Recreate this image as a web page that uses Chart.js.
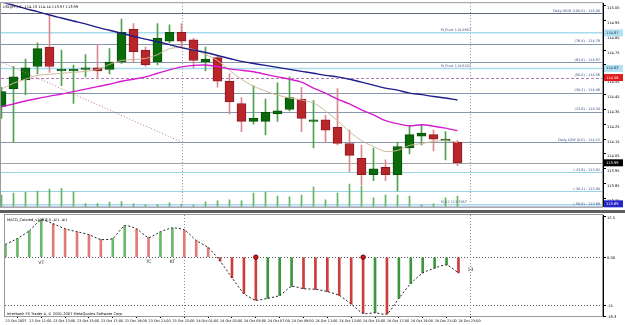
<!DOCTYPE html>
<html>
<head>
<meta charset="utf-8">
<title>USDJPY,H1</title>
<script src="https://cdn.jsdelivr.net/npm/chart.js@4.4.1/dist/chart.umd.min.js"></script>
<style>
    html, body { margin: 0; padding: 0; background: #fff; }
    #wrap { position: relative; width: 625px; height: 325px; overflow: hidden; background: #fff; }
    #priceChart { position: absolute; left: 0; top: 0; }
    #macdChart { position: absolute; left: 0; top: 210px; }
</style>
</head>
<body>
<div id="wrap">
    <canvas id="priceChart" width="625" height="210"></canvas>
    <canvas id="macdChart" width="625" height="115"></canvas>
</div>
<script>
// DATA - USDJPY H1, 23 Oct 09:00 .. 24 Oct 23:00
var symbolName = "USDJPY,H1";
var timeLabels = [
    "23 Oct 2007", "23 Oct 11:00", "23 Oct 13:00", "23 Oct 15:00", "23 Oct 17:00",
    "23 Oct 19:00", "23 Oct 21:00", "23 Oct 23:00", "24 Oct 01:00", "24 Oct 03:00",
    "24 Oct 05:00", "24 Oct 07:00", "24 Oct 09:00", "24 Oct 11:00", "24 Oct 13:00",
    "24 Oct 15:00", "24 Oct 17:00", "24 Oct 19:00", "24 Oct 21:00", "24 Oct 23:00"
];
var opens = [114.37, 114.49, 114.55, 114.64, 114.77, 114.61, 114.61, 114.62, 114.63, 114.62,
    114.67, 114.89, 114.75, 114.67, 114.81, 114.87, 114.82, 114.67, 114.70, 114.54,
    114.39, 114.27, 114.27, 114.32, 114.35, 114.42, 114.27, 114.28, 114.23, 114.12,
    114.02, 113.91, 113.96, 113.91, 114.09, 114.17, 114.18, 114.14, 114.13];
var highs = [114.50, 114.64, 114.69, 114.80, 115.00, 114.75, 114.65, 114.72, 114.79, 114.76,
    114.96, 114.93, 114.77, 114.93, 114.92, 114.93, 114.83, 114.77, 114.71, 114.59,
    114.43, 114.51, 114.42, 114.53, 114.57, 114.50, 114.41, 114.31, 114.49, 114.21,
    114.11, 114.09, 114.01, 114.13, 114.24, 114.25, 114.21, 114.20, 114.14];
var lows = [114.29, 114.13, 114.45, 114.59, 114.60, 114.51, 114.39, 114.57, 114.56, 114.59,
    114.66, 114.67, 114.64, 114.65, 114.80, 114.77, 114.63, 114.61, 114.50, 114.32,
    114.20, 114.25, 114.18, 114.27, 114.34, 114.20, 114.09, 114.13, 114.11, 113.93,
    113.84, 113.87, 113.87, 113.80, 114.05, 114.11, 114.07, 114.01, 113.97];
var closes = [114.47, 114.57, 114.63, 114.76, 114.64, 114.62, 114.62, 114.63, 114.61, 114.67,
    114.87, 114.74, 114.65, 114.83, 114.87, 114.81, 114.68, 114.69, 114.54, 114.40,
    114.27, 114.29, 114.33, 114.34, 114.43, 114.29, 114.28, 114.21, 114.12, 114.04,
    113.91, 113.95, 113.91, 114.10, 114.18, 114.19, 114.15, 114.15, 113.99];
var volumes = [300, 350, 370, 400, 450, 470, 380, 80, 80, 120, 130, 75, 50, 55, 100, 70, 45, 125,
    150, 175, 150, 350, 375, 275, 250, 300, 500, 175, 350, 575, 525, 225, 300, 300, 275, 50, 75, 225, 275];

// MOVING AVERAGES
var slowMA = [115.074, 115.054, 115.030, 115.010, 114.987, 114.967, 114.947, 114.927, 114.904, 114.884,
    114.864, 114.844, 114.824, 114.807, 114.787, 114.767, 114.750, 114.734, 114.714, 114.694,
    114.674, 114.660, 114.647, 114.634, 114.620, 114.607, 114.594, 114.580, 114.570, 114.554,
    114.534, 114.514, 114.494, 114.480, 114.460, 114.450, 114.437, 114.427, 114.414];
var midMA = [114.367, 114.387, 114.407, 114.424, 114.440, 114.454, 114.470, 114.487, 114.504, 114.520,
    114.540, 114.554, 114.570, 114.594, 114.617, 114.637, 114.647, 114.650, 114.640, 114.624,
    114.614, 114.604, 114.587, 114.570, 114.554, 114.534, 114.494, 114.460, 114.420, 114.387,
    114.347, 114.314, 114.274, 114.254, 114.240, 114.247, 114.237, 114.224, 114.207];
var fastMA = [114.487, 114.527, 114.554, 114.580, 114.587, 114.594, 114.600, 114.607, 114.620, 114.654,
    114.680, 114.687, 114.694, 114.720, 114.760, 114.767, 114.754, 114.720, 114.680, 114.614,
    114.554, 114.507, 114.474, 114.447, 114.427, 114.414, 114.394, 114.340, 114.274, 114.200,
    114.140, 114.100, 114.067, 114.074, 114.107, 114.120, 114.134, 114.140, 114.127];

// TREND LINE + LEVELS
var trendBars = [-1, 15];
var trendPrices = [114.706, 114.13];
var dailyHigh = 115.00;
var dailyLow = 114.13;
var fibRatios = [100, 76.4, 61.8, 50, 38.2, 23.6, 0, -23.6, -38.2, -50];
var pivotNames = ["M_Pivot", "M_Pivot", "M_S2"];
var pivotPrices = [114.8667, 114.6267, 113.7067];
var dayBreaks = [15, 39];
var priceTicks = [115.05, 114.95, 114.85, 114.75, 114.65, 114.55, 114.45, 114.35, 114.25, 114.15, 114.05, 113.95, 113.85, 113.75];

// MACD
var macdValues = [4.0, 5.8, 8.2, 11.6, 10.4, 8.8, 7.9, 7.0, 5.5, 5.8, 9.8, 8.8, 6.1, 7.9, 9.1, 8.5, 5.2, 3.0,
    -1.2, -6.4, -11.3, -13.4, -12.8, -11.9, -9.1, -9.8, -10.0, -10.7, -11.9, -14.6, -17.5, -17.3, -17.7,
    -12.8, -8.2, -4.9, -3.4, -2.4, -4.9];
var macdTicks = [12.5, 0, -15, -18.3];
var macdLevels = [0, -15];
var signalBars = [21, 30];
var markBars = [3, 12, 14, 39];
var markTexts = ["VT", "TC", "KT", "13"];
var markValues = [-1.1, -0.8, -0.8, -3.1];

// SCALE RANGES
var xMin = -0.0417, xMax = 50.125;
var priceMin = 113.693, priceMax = 115.067;
var macdMin = -18.3, macdMax = 13.11;

Chart.defaults.font.family = "'DejaVu Sans', sans-serif";
Chart.defaults.color = "#000";

function pts(arr) {
    return arr.map(function (v, i) { return { x: i, y: v }; });
}

function fibStyle(r) {
    if (r === 50) return { color: "#b77ab7", width: 1, dash: [3, 2] };
    if (r === -50) return { color: "#b9b9e8", width: 3, dash: [] };
    if (r < 0) return { color: "#9cd2e8", width: 1, dash: [] };
    if (r === 100) return { color: "#5d687d", width: 1, dash: [] };
    return { color: "#8797ae", width: 1, dash: [] };
}

function fibPrice(r) {
    return dailyLow + (dailyHigh - dailyLow) * r / 100;
}

function fibText(r) {
    var p = fibPrice(r).toFixed(2);
    if (r === 100) return "Daily HIGH (100.0) - " + p;
    if (r === 0) return "Daily LOW (0.0) - " + p;
    return "(" + r.toFixed(1) + ") - " + p;
}

function axisBox(ctx, chart, py, bg, fg, text) {
    var a = chart.chartArea;
    ctx.fillStyle = bg;
    ctx.fillRect(a.right + 1, py - 3.5, 19, 7);
    ctx.fillStyle = fg;
    ctx.font = "3.6px 'DejaVu Sans'";
    ctx.textAlign = "left";
    ctx.textBaseline = "middle";
    ctx.fillText(text, a.right + 3, py);
}

// PRICE OBJECTS
var pricePlugin = {
    id: "priceObjects",
    beforeDatasetsDraw: function (chart) {
        var ctx = chart.ctx, a = chart.chartArea, x = chart.scales.x, y = chart.scales.y;
        ctx.save();
        ctx.beginPath();
        ctx.rect(a.left, a.top, a.right - a.left, a.bottom - a.top);
        ctx.clip();

        // day separators
        ctx.strokeStyle = "#8c8c8c";
        ctx.lineWidth = 1;
        ctx.setLineDash([1, 2]);
        dayBreaks.forEach(function (b) {
            var px = Math.round(x.getPixelForValue(b)) + 0.5;
            ctx.beginPath();
            ctx.moveTo(px, a.top);
            ctx.lineTo(px, a.bottom);
            ctx.stroke();
        });

        // pivots
        ctx.setLineDash([]);
        ctx.strokeStyle = "#a9dbee";
        ctx.lineWidth = 1.5;
        pivotPrices.forEach(function (p) {
            var py = y.getPixelForValue(p);
            ctx.beginPath();
            ctx.moveTo(a.left, py);
            ctx.lineTo(a.right, py);
            ctx.stroke();
        });

        // fibo
        fibRatios.forEach(function (r) {
            var st = fibStyle(r);
            var py = Math.round(y.getPixelForValue(fibPrice(r))) + 0.5;
            ctx.strokeStyle = st.color;
            ctx.lineWidth = st.width;
            ctx.setLineDash(st.dash);
            ctx.beginPath();
            ctx.moveTo(a.left, py);
            ctx.lineTo(a.right, py);
            ctx.stroke();
        });

        // bid line
        ctx.setLineDash([]);
        ctx.strokeStyle = "#a4a4a4";
        ctx.lineWidth = 1;
        var by = Math.round(y.getPixelForValue(closes[closes.length - 1])) + 0.5;
        ctx.beginPath();
        ctx.moveTo(a.left, by);
        ctx.lineTo(a.right, by);
        ctx.stroke();
        ctx.restore();
    },
    afterDraw: function (chart) {
        var ctx = chart.ctx, a = chart.chartArea, x = chart.scales.x, y = chart.scales.y;
        var last = closes.length - 1;
        ctx.save();
        ctx.font = "3.4px 'DejaVu Sans'";
        ctx.textBaseline = "alphabetic";

        // fib labels
        ctx.fillStyle = "#34498c";
        ctx.textAlign = "right";
        fibRatios.forEach(function (r) {
            var py = y.getPixelForValue(fibPrice(r));
            ctx.fillText(fibText(r), a.right - 3, py - 1.5);
        });

        // pivot labels
        ctx.textAlign = "left";
        ctx.fillStyle = "#4a5a80";
        pivotPrices.forEach(function (p, i) {
            var py = y.getPixelForValue(p);
            ctx.fillText(pivotNames[i] + " " + p.toFixed(4), x.getPixelForValue(36.6), py - 1.5);
        });

        // title
        ctx.fillStyle = "#000";
        ctx.font = "3.6px 'DejaVu Sans'";
        ctx.fillText(symbolName + "  " + opens[last].toFixed(2) + " " + highs[last].toFixed(2) + " " +
            lows[last].toFixed(2) + " " + closes[last].toFixed(2), a.left + 2, a.top + 5);

        // frame
        ctx.strokeStyle = "#9a9a9a";
        ctx.lineWidth = 1;
        ctx.strokeRect(a.left - 0.5, a.top - 0.5, a.right - a.left, a.bottom - a.top + 1);

        // axis boxes
        axisBox(ctx, chart, y.getPixelForValue(pivotPrices[0]), "#b3e1f2", "#1a3a60", pivotPrices[0].toFixed(2));
        axisBox(ctx, chart, y.getPixelForValue(pivotPrices[1]), "#b3e1f2", "#1a3a60", pivotPrices[1].toFixed(2));
        axisBox(ctx, chart, y.getPixelForValue(fibPrice(50)), "#e01818", "#fff", fibPrice(50).toFixed(2));
        axisBox(ctx, chart, y.getPixelForValue(closes[last]), "#000", "#fff", closes[last].toFixed(2));
        axisBox(ctx, chart, Math.min(y.getPixelForValue(fibPrice(-50)), a.bottom - 3), "#2626c8", "#fff", fibPrice(-50).toFixed(2));
        ctx.restore();
    }
};

// MAIN CHART
var bull = closes.map(function (c, i) { return c >= opens[i]; });
var priceChart = new Chart(document.getElementById("priceChart"), {
    type: "bar",
    data: {
        datasets: [
            {
                type: "line", label: "MA slow", data: pts(slowMA),
                borderColor: "#1e1e88", borderWidth: 1.4, pointRadius: 0, tension: 0.3,
            },
            {
                type: "line", label: "MA mid", data: pts(midMA),
                borderColor: "#d61ccf", borderWidth: 1.4, pointRadius: 0, tension: 0.3,
            },
            {
                type: "line", label: "MA fast", data: pts(fastMA),
                borderColor: "#cdb894", borderWidth: 1, pointRadius: 0, tension: 0.3,
            },
            {
                type: "line", label: "Trend",
                data: trendBars.map(function (b, i) { return { x: b, y: trendPrices[i] }; }),
                borderColor: "#b87a7a", borderWidth: 1, borderDash: [1, 2], pointRadius: 0,
            },
            {
                label: "Body",
                data: opens.map(function (o, i) { return { x: i, y: [o, closes[i]] }; }),
                backgroundColor: bull.map(function (b) { return b ? "#0a6b0a" : "#b8262c"; }),
                borderColor: bull.map(function (b) { return b ? "#0a4f0a" : "#8e1a1e"; }),
                borderWidth: 1,
                borderSkipped: false,
                barThickness: 9,
            },
            {
                label: "Wick",
                data: lows.map(function (l, i) { return { x: i, y: [l, highs[i]] }; }),
                backgroundColor: bull.map(function (b) { return b ? "#4ea34e" : "#d98a92"; }),
                barThickness: 1,
            },
            {
                label: "Volume", yAxisID: "yv", data: pts(volumes),
                backgroundColor: "#62b862",
                barThickness: 1,
            },
        ],
    },
    options: {
        responsive: false,
        animation: false,
        events: [],
        layout: { padding: { left: 1, top: 3, right: 0, bottom: 1 } },
        datasets: { bar: { grouped: false } },
        plugins: { legend: { display: false }, tooltip: { enabled: false } },
        scales: {
            x: { type: "linear", min: xMin, max: xMax, offset: false, display: false },
            y: {
                position: "right",
                min: priceMin,
                max: priceMax,
                afterFit: function (s) { s.width = 22; },
                afterBuildTicks: function (s) {
                    s.ticks = priceTicks.map(function (v) { return { value: v }; });
                },
                ticks: {
                    font: { size: 3.6 },
                    padding: 1,
                    labelOffset: 2.5,
                    callback: function (v) { return Number(v).toFixed(2); },
                },
                grid: { drawOnChartArea: false, tickLength: 3, color: "#000" },
                border: { color: "#000" },
            },
            yv: { display: false, min: 0, max: 5150 },
        },
    },
    plugins: [pricePlugin],
});

// MACD OBJECTS
var macdPlugin = {
    id: "macdObjects",
    beforeDatasetsDraw: function (chart) {
        var ctx = chart.ctx, a = chart.chartArea, x = chart.scales.x, y = chart.scales.y;
        ctx.save();
        ctx.fillStyle = "#5e5e5e";
        ctx.fillRect(0, 0, chart.width, 3);

        ctx.lineWidth = 1;
        ctx.strokeStyle = "#555";
        ctx.setLineDash([1, 2]);
        macdLevels.forEach(function (v) {
            var py = Math.round(y.getPixelForValue(v)) + 0.5;
            ctx.beginPath();
            ctx.moveTo(a.left, py);
            ctx.lineTo(a.right, py);
            ctx.stroke();
        });

        ctx.strokeStyle = "#8c8c8c";
        dayBreaks.forEach(function (b) {
            var px = Math.round(x.getPixelForValue(b)) + 0.5;
            ctx.beginPath();
            ctx.moveTo(px, a.top);
            ctx.lineTo(px, a.bottom);
            ctx.stroke();
        });
        ctx.restore();
    },
    afterDraw: function (chart) {
        var ctx = chart.ctx, a = chart.chartArea, x = chart.scales.x, y = chart.scales.y;
        ctx.save();
        ctx.fillStyle = "#000";
        ctx.textAlign = "left";
        ctx.textBaseline = "alphabetic";
        ctx.font = "3.6px 'DejaVu Sans'";
        ctx.fillText("MACD_Colored_v103 8,5 -4/1 -4/1", a.left + 2, a.top + 6);
        ctx.fillText("Interbank FX Trader 4, \u00a9 2001-2007 MetaQuotes Software Corp.", a.left + 2, a.bottom - 1.5);

        ctx.font = "4.6px 'DejaVu Sans'";
        ctx.textAlign = "center";
        ctx.textBaseline = "middle";
        ctx.fillStyle = "#222";
        markBars.forEach(function (b, i) {
            ctx.fillText(markTexts[i], x.getPixelForValue(b), y.getPixelForValue(markValues[i]) + 2.5);
        });

        ctx.strokeStyle = "#9a9a9a";
        ctx.lineWidth = 1;
        ctx.strokeRect(a.left - 0.5, a.top - 0.5, a.right - a.left, a.bottom - a.top + 1);
        ctx.restore();
    }
};

// MACD CHART
var macdChart = new Chart(document.getElementById("macdChart"), {
    type: "bar",
    data: {
        datasets: [
            {
                type: "line", label: "Signal marks",
                data: signalBars.map(function (b) { return { x: b, y: 0 }; }),
                showLine: false, pointStyle: "circle", pointRadius: 2.2,
                backgroundColor: "#e01616", borderColor: "#5a0000", borderWidth: 1,
            },
            {
                type: "line", label: "MACD line", data: pts(macdValues),
                borderColor: "#262626", borderWidth: 1, borderDash: [2, 2], pointRadius: 0, tension: 0.2,
            },
            {
                label: "MACD", data: pts(macdValues),
                backgroundColor: macdValues.map(function (v, i) {
                    var up = i === 0 || v >= macdValues[i - 1];
                    if (v >= 0) return up ? "#6ab86a" : "#e07a7a";
                    return up ? "#3f953f" : "#cc3d3d";
                }),
                barThickness: 2,
            },
        ],
    },
    options: {
        responsive: false,
        animation: false,
        events: [],
        layout: { padding: { left: 1, top: 3, right: 0, bottom: 0 } },
        datasets: { bar: { grouped: false } },
        plugins: { legend: { display: false }, tooltip: { enabled: false } },
        scales: {
            x: {
                type: "linear",
                min: xMin,
                max: xMax,
                offset: false,
                afterFit: function (s) { s.height = 9; },
                afterBuildTicks: function (s) {
                    s.ticks = timeLabels.map(function (t, i) { return { value: i * 2 }; });
                },
                ticks: {
                    font: { size: 3.4 },
                    align: "start",
                    maxRotation: 0,
                    autoSkip: false,
                    padding: 1,
                    callback: function (v) { return timeLabels[Math.round(v / 2)]; },
                },
                grid: { drawOnChartArea: false, tickLength: 2, color: "#000" },
                border: { color: "#000" },
            },
            y: {
                position: "right",
                min: macdMin,
                max: macdMax,
                afterFit: function (s) { s.width = 22; },
                afterBuildTicks: function (s) {
                    s.ticks = macdTicks.map(function (v) { return { value: v }; });
                },
                ticks: {
                    font: { size: 3.6 },
                    padding: 1,
                    labelOffset: 1,
                    callback: function (v) {
                        if (v === 0) return "0.00";
                        if (v === -15) return "-15";
                        return String(v);
                    },
                },
                grid: { drawOnChartArea: false, tickLength: 3, color: "#000" },
                border: { color: "#000" },
            },
        },
    },
    plugins: [macdPlugin],
});
</script>
</body>
</html>
